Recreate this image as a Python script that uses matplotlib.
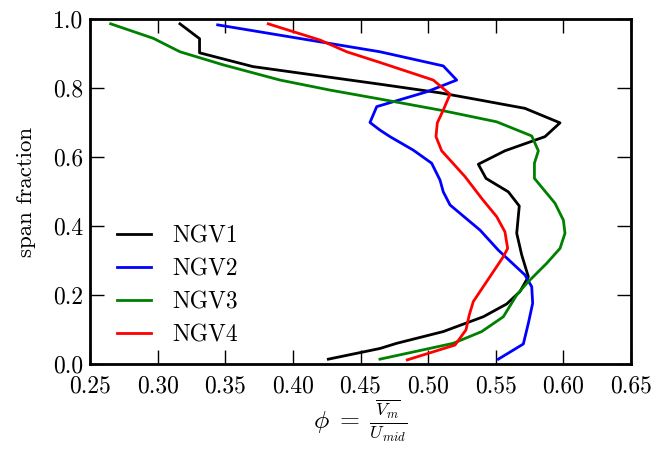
import matplotlib
matplotlib.use("Agg")
import matplotlib.pyplot as plt

plt.rcParams['font.family'] = 'serif'
plt.rcParams['font.serif'] = ['cmr10']
plt.rcParams['mathtext.fontset'] = 'cm'
plt.rcParams['axes.formatter.use_mathtext'] = True

labels = ["NGV1", "NGV2", "NGV3", "NGV4"]
colors = ["k", "b", "g", "r"]

ngv1_x = [0.4262, 0.4644, 0.4768, 0.5112, 0.5408, 0.5581, 0.5679, 0.5741, 0.5692, 0.5655,
          0.5674, 0.5593, 0.5428, 0.5371, 0.5568, 0.5864, 0.5975, 0.5716, 0.5384, 0.5088,
          0.4644, 0.3705, 0.331, 0.331, 0.3165]
ngv1_y = [0.014, 0.045, 0.060, 0.094, 0.137, 0.174, 0.210, 0.253, 0.316, 0.379,
          0.458, 0.499, 0.538, 0.579, 0.618, 0.659, 0.699, 0.741, 0.765, 0.786,
          0.811, 0.862, 0.902, 0.943, 0.986]

ngv2_x = [0.5519, 0.5704, 0.5741, 0.5773, 0.5766, 0.5716, 0.5519, 0.5384, 0.5162, 0.5112,
          0.5088, 0.5026, 0.4890, 0.4718, 0.4644, 0.457, 0.462, 0.4990, 0.5211, 0.5112,
          0.4644, 0.3444]
ngv2_y = [0.014, 0.058, 0.118, 0.176, 0.224, 0.258, 0.330, 0.388, 0.461, 0.499,
          0.533, 0.582, 0.620, 0.659, 0.678, 0.700, 0.746, 0.789, 0.823, 0.864,
          0.905, 0.983]

ngv3_x = [0.4644, 0.5186, 0.5396, 0.5556, 0.5655, 0.5729, 0.5877, 0.5975, 0.6012, 0.6000,
          0.5938, 0.5786, 0.5786, 0.5815, 0.5766, 0.5507, 0.5088, 0.4644, 0.4274, 0.3905,
          0.3486, 0.3165, 0.2968, 0.2653]
ngv3_y = [0.014, 0.060, 0.094, 0.137, 0.200, 0.234, 0.292, 0.335, 0.379, 0.417,
          0.466, 0.538, 0.582, 0.618, 0.661, 0.702, 0.736, 0.768, 0.794, 0.823,
          0.867, 0.905, 0.944, 0.986]

ngv4_x = [0.4846, 0.5199, 0.5280, 0.5304, 0.5334, 0.5457, 0.5556, 0.5588, 0.5568, 0.5507,
          0.5396, 0.5273, 0.5100, 0.5058, 0.5068, 0.5112, 0.5162, 0.5038, 0.4644, 0.4398,
          0.4201, 0.3818]
ngv4_y = [0.012, 0.055, 0.099, 0.142, 0.181, 0.253, 0.311, 0.335, 0.383, 0.427,
          0.480, 0.543, 0.618, 0.659, 0.699, 0.736, 0.782, 0.823, 0.874, 0.905,
          0.939, 0.986]

series = [(ngv1_x, ngv1_y), (ngv2_x, ngv2_y), (ngv3_x, ngv3_y), (ngv4_x, ngv4_y)]

fig = plt.figure(figsize=(6.56, 4.49), dpi=100)
ax = fig.add_axes([90/656, 85/449, 541/656, 345/449])

for (xs, ys), lab, c in zip(series, labels, colors):
    ax.plot(xs, ys, color=c, lw=2, label=lab)

ax.set_xlim(0.25, 0.65)
ax.set_ylim(0.0, 1.0)
ax.set_xticks([0.25, 0.30, 0.35, 0.40, 0.45, 0.50, 0.55, 0.60, 0.65])
ax.set_xticklabels(["0.25", "0.30", "0.35", "0.40", "0.45", "0.50", "0.55", "0.60", "0.65"])
ax.set_yticks([0.0, 0.2, 0.4, 0.6, 0.8, 1.0])
ax.set_yticklabels(["0.0", "0.2", "0.4", "0.6", "0.8", "1.0"])
ax.tick_params(direction='in', top=True, right=True, length=10, width=1, labelsize=17)
ax.tick_params(axis='x', pad=8.5)
ax.tick_params(axis='y', pad=5)
for s in ax.spines.values():
    s.set_linewidth(2)

ax.set_ylabel("span fraction", fontsize=16.5, labelpad=12)
ax.set_xlabel(r"$\phi\;=\;\frac{\overline{V_m}}{U_{mid}}$", fontsize=18.5, labelpad=0)

ax.legend(loc='lower left', frameon=False, fontsize=17, handlelength=1.45,
          handletextpad=0.9, labelspacing=0.46, bbox_to_anchor=(0.01, -0.01))

fig.savefig("out.png", dpi=100)
